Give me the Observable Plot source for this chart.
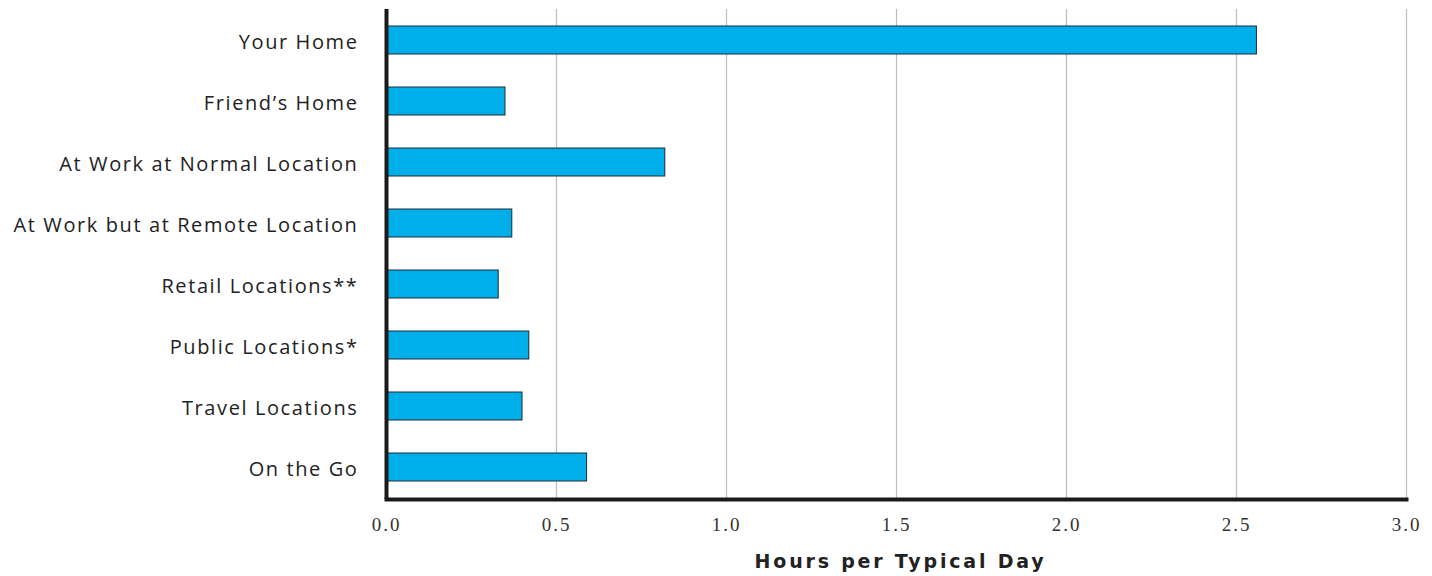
<!DOCTYPE html>
<html>
<head>
<meta charset="utf-8">
<script src="https://cdn.jsdelivr.net/npm/d3@7"></script>
<script src="https://cdn.jsdelivr.net/npm/@observablehq/plot@0.6"></script>
<style>
  html, body { margin: 0; padding: 0; background: #fff; }
  #chart { width: 1432px; height: 576px; overflow: hidden; }
  .ylab text { letter-spacing: 1.6px; }
  .xlab text { letter-spacing: 2px; }
  .title text { letter-spacing: 2.8px; }
</style>
</head>
<body>
<div id="chart"></div>
<script>
const categories = [
  "Your Home",
  "Friend\u2019s Home",
  "At Work at Normal Location",
  "At Work but at Remote Location",
  "Retail Locations**",
  "Public Locations*",
  "Travel Locations",
  "On the Go"
];
const hours = [2.56, 0.35, 0.82, 0.37, 0.33, 0.42, 0.40, 0.59];
const xTicks = [0, 0.5, 1.0, 1.5, 2.0, 2.5, 3.0];
const xLabel = "Hours per Typical Day";

const data = categories.map((c, i) => ({category: c, value: hours[i]}));

const chart = Plot.plot({
  width: 1432,
  height: 576,
  marginTop: 9,
  marginBottom: 77,
  marginLeft: 386,
  marginRight: 26,
  style: {background: "#fff", overflow: "visible"},
  x: {domain: [0, 3], ticks: xTicks},
  y: {domain: categories, paddingInner: 0.54, paddingOuter: 0.26},
  marks: [
    Plot.gridX(xTicks.filter(t => t > 0), {stroke: "#bdbdbd", strokeOpacity: 1, strokeWidth: 1.2}),
    Plot.barX(data, {y: "category", x: "value", fill: "#00AEEA", stroke: "#1e2a30", strokeWidth: 1}),
    Plot.frame({anchor: "bottom", stroke: "#1a1a1a", strokeWidth: 4}),
    Plot.ruleX([0], {stroke: "#1a1a1a", strokeWidth: 4}),
    Plot.axisX({
      ticks: xTicks, tickSize: 0, tickPadding: 18, tickFormat: d3.format(".1f"),
      fontSize: 19, fontFamily: "Liberation Serif", fill: "#333",
      label: null, className: "xlab"
    }),
    Plot.axisY({
      tickSize: 0, tickPadding: 28, dy: 2, fontSize: 20, fontFamily: "Open Sans", fill: "#222",
      label: null, className: "ylab"
    }),
    Plot.text([xLabel], {
      frameAnchor: "bottom", dy: 68, dx: 4, text: d => d, className: "title",
      fontSize: 19, fontWeight: "bold", fontFamily: "DejaVu Sans", fill: "#222"
    })
  ]
});
document.getElementById("chart").appendChild(chart);
</script>
</body>
</html>
